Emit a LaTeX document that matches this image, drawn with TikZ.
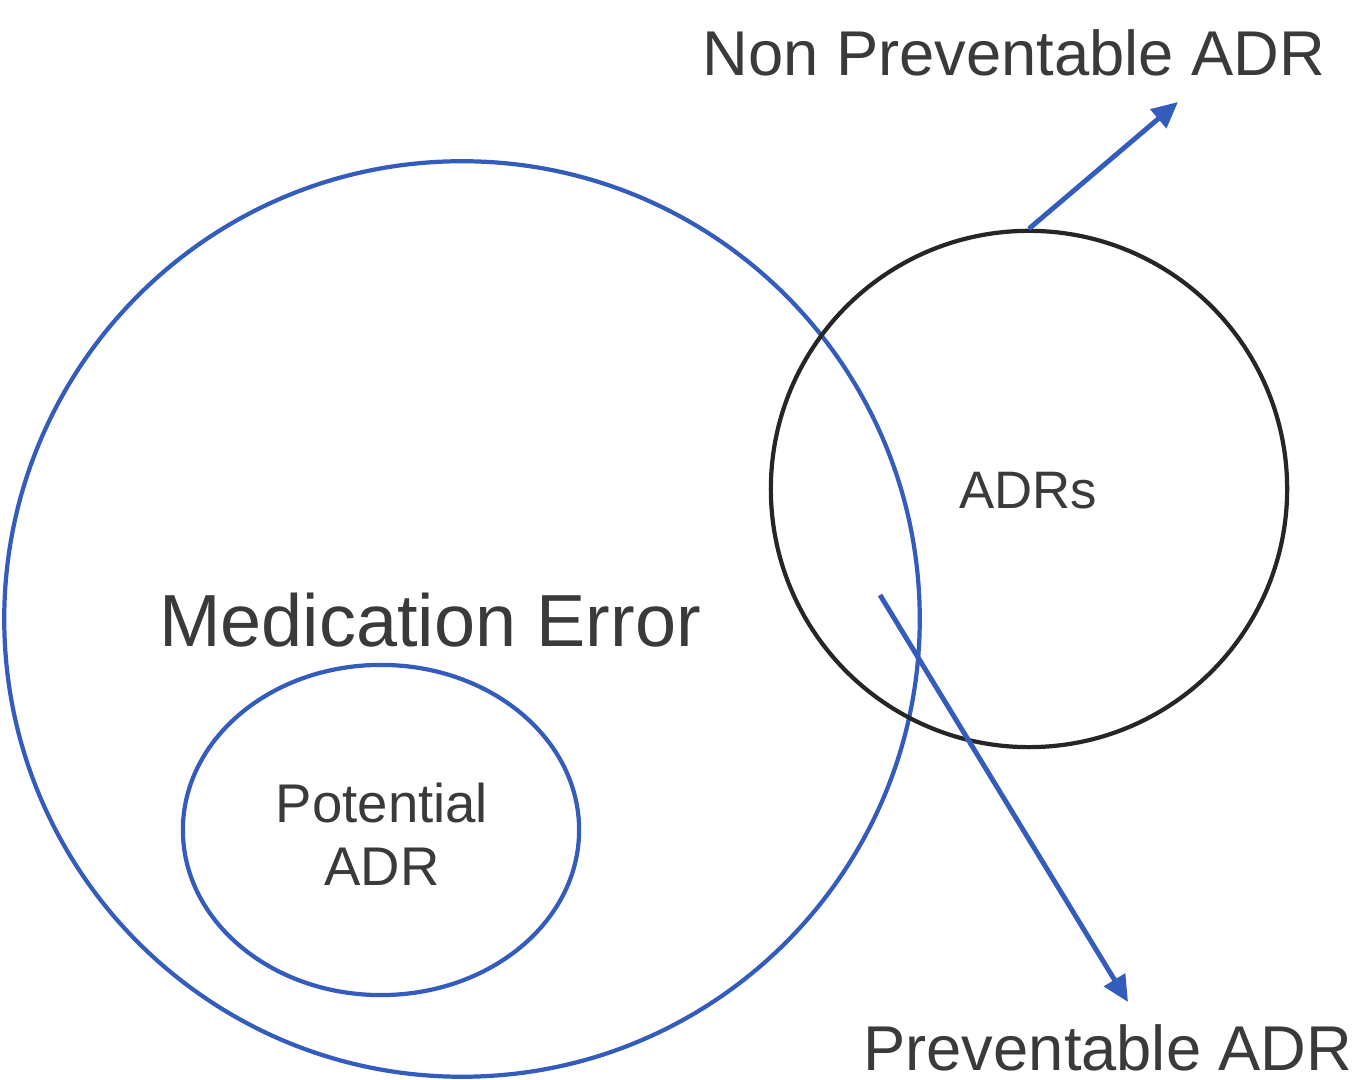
\documentclass[tikz,border=0pt]{standalone}
\usepackage{xcolor}
\usepackage{tikz}
\usepackage{fontspec}
\setmainfont{Liberation Sans}
\usetikzlibrary{shapes.geometric, arrows.meta, positioning}

\definecolor{errblue}{RGB}{52,92,188}
\definecolor{txtgray}{RGB}{58,58,60}
\definecolor{adrblack}{RGB}{38,38,38}

\begin{document}
\begin{tikzpicture}[x=0.01cm, y=-0.01cm]
    \tikzstyle{ring} = [circle, draw, line width=1.2pt, inner sep=0pt]
    \tikzstyle{label} = [text=txtgray, inner sep=0pt]
    \tikzstyle{pointer} = [draw=errblue, line width=1.4pt, -{Triangle[length=2.6mm, width=2.4mm]}]

    \useasboundingbox (0,0) rectangle (1363,1080);

    % Medication error
    \node[ring, draw=errblue, minimum size=9.15cm] (err) at (462,619) {};
    \node[label, anchor=base, font=\fontsize{21}{24}\selectfont] (errtxt) at (430,647) {Medication Error};

    % Potential ADR
    \node[ellipse, draw=errblue, line width=1.2pt, inner sep=0pt, minimum width=3.96cm, minimum height=3.3cm] (pot) at (381,830) {};
    \node[label, align=center, font=\fontsize{15.5}{18}\selectfont] (pottxt) at (382,834) {Potential\\ADR};

    % ADRs
    \node[ring, draw=adrblack, minimum size=5.16cm] (adr) at (1029,489) {};
    \node[label, font=\fontsize{15}{18}\selectfont] (adrtxt) at (1028,491) {ADRs};

    % Labels
    \node[label, anchor=base, font=\fontsize{18}{20}\selectfont] (nonprev) at (1014,76) {Non Preventable ADR};
    \node[label, anchor=base, font=\fontsize{18}{20}\selectfont] (prev) at (1108,1071) {Preventable ADR};

    % Arrows
    \coordinate (nonend) at (1178,102);
    \coordinate (prevstart) at (880,595);
    \coordinate (prevend) at (1128,1002);
    \draw[pointer] (adr.north) -- (nonend);
    \draw[pointer] (prevstart) -- (prevend);
\end{tikzpicture}
\end{document}
